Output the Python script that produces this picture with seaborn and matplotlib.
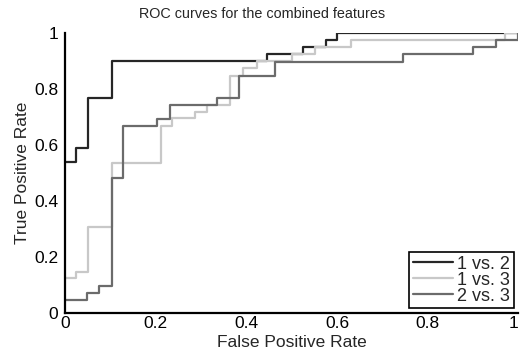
import pandas as pd
import matplotlib
matplotlib.use('Agg')
import matplotlib.pyplot as plt
import seaborn as sns

# ROC step points (fpr, tpr)
fpr_12 = [0.0, 0.024, 0.051, 0.104, 0.445, 0.524, 0.576, 0.600, 1.0]
tpr_12 = [0.540, 0.590, 0.768, 0.900, 0.925, 0.950, 0.975, 1.0, 1.0]

fpr_13 = [0.0, 0.024, 0.051, 0.104, 0.212, 0.236, 0.287, 0.313, 0.364, 0.393,
          0.423, 0.500, 0.552, 0.630, 0.970, 1.0]
tpr_13 = [0.125, 0.146, 0.307, 0.536, 0.668, 0.696, 0.718, 0.743, 0.846, 0.875,
          0.900, 0.925, 0.950, 0.975, 1.0, 1.0]

fpr_23 = [0.0, 0.049, 0.075, 0.104, 0.128, 0.203, 0.232, 0.335, 0.384, 0.464,
          0.745, 0.900, 0.951, 1.0]
tpr_23 = [0.046, 0.071, 0.096, 0.482, 0.668, 0.693, 0.743, 0.768, 0.846, 0.896,
          0.925, 0.950, 0.975, 1.0]

labels = ['1 vs. 2', '1 vs. 3', '2 vs. 3']
colors = ['#262626', '#c8c8c8', '#6b6b6b']
ticks = [0, 0.2, 0.4, 0.6, 0.8, 1]
tick_labels = ['0', '0.2', '0.4', '0.6', '0.8', '1']

df = pd.concat([
    pd.DataFrame({'fpr': fpr_12, 'tpr': tpr_12, 'pair': labels[0]}),
    pd.DataFrame({'fpr': fpr_13, 'tpr': tpr_13, 'pair': labels[1]}),
    pd.DataFrame({'fpr': fpr_23, 'tpr': tpr_23, 'pair': labels[2]}),
], ignore_index=True)

sns.set_style('white')
plt.rcParams['font.family'] = ['Liberation Sans', 'DejaVu Sans']

fig = plt.figure(figsize=(5.21, 3.52), dpi=100)
ax = fig.add_axes([0.1248, 0.111, 0.870, 0.795])

sns.lineplot(data=df, x='fpr', y='tpr', hue='pair', hue_order=labels,
             palette=colors, estimator=None, sort=False, drawstyle='steps-post',
             linewidth=1.6, ax=ax)

ax.set_xlim(0, 1)
ax.set_ylim(0, 1)
ax.set_xticks(ticks)
ax.set_xticklabels(tick_labels)
ax.set_yticks(ticks)
ax.set_yticklabels(tick_labels)
ax.tick_params(direction='in', length=3, width=1.2, labelsize=12.5, colors='black')
ax.tick_params(axis='y', pad=5)
ax.tick_params(axis='x', pad=2)
ax.get_xticklabels()[-1].set_ha('right')

for side in ['top', 'right']:
    ax.spines[side].set_visible(False)
for side in ['left', 'bottom']:
    ax.spines[side].set_color('black')
    ax.spines[side].set_linewidth(1.6)

ax.set_title('ROC curves for the combined features', fontsize=10.4, pad=11, x=0.435)
ax.set_xlabel('False Positive Rate', fontsize=12.5, labelpad=3)
ax.set_ylabel('True Positive Rate', fontsize=12.5, labelpad=3)

leg = ax.legend(loc='lower right', fontsize=13, frameon=True, fancybox=False,
                framealpha=1, edgecolor='black', handlelength=2.2,
                borderaxespad=0.25, labelspacing=-0.05, handletextpad=0.25,
                borderpad=0.2)
leg.get_frame().set_linewidth(1.2)

fig.savefig('out.png', dpi=100)
